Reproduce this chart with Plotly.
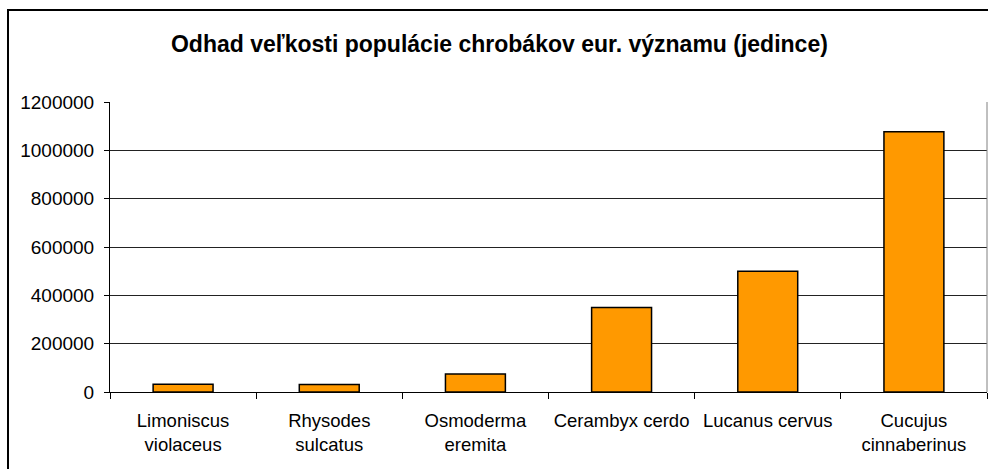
import plotly.graph_objects as go

""" Data read from the chart """
druhy = [
    "Limoniscus<br>violaceus",
    "Rhysodes<br>sulcatus",
    "Osmoderma<br>eremita",
    "Cerambyx cerdo",
    "Lucanus cervus",
    "Cucujus<br>cinnaberinus",
]
jedince = [32000, 31000, 74000, 350000, 500000, 1077000]

y_ticks = [0, 200000, 400000, 600000, 800000, 1000000, 1200000]

""" Plot """
fig = go.Figure(
    go.Bar(
        x=druhy,
        y=jedince,
        marker=dict(color="#FF9900", line=dict(color="#000000", width=1.5)),
    )
)

fig.update_layout(
    width=988,
    height=469,
    margin=dict(l=110, r=1, t=102, b=77),
    paper_bgcolor="white",
    plot_bgcolor="white",
    bargap=0.59,
    showlegend=False,
    font=dict(family="Liberation Sans, Arial", size=18.5, color="black"),
    title=dict(
        text="<b>Odhad veľkosti populácie chrobákov eur. významu (jedince)</b>",
        x=0.5055,
        xanchor="center",
        y=0.906,
        yanchor="middle",
        font=dict(size=23, color="black"),
    ),
)

fig.update_xaxes(
    type="category",
    showline=True,
    linecolor="black",
    linewidth=1,
    ticks="outside",
    tickson="boundaries",
    ticklen=6,
    tickcolor="black",
    showgrid=False,
    ticklabelstandoff=12,
)
fig.update_yaxes(
    range=[0, 1200000],
    tickvals=y_ticks,
    ticktext=[str(v) for v in y_ticks],
    tickfont=dict(size=19),
    showline=True,
    linecolor="black",
    linewidth=1,
    ticks="outside",
    ticklen=5,
    tickcolor="black",
    showgrid=True,
    gridcolor="#222222",
    gridwidth=1,
    zeroline=False,
    ticklabelstandoff=6,
)

# plot area border (top/right gray) and outer chart frame
fig.add_shape(type="line", xref="paper", yref="paper", x0=1, x1=1, y0=0, y1=1,
              line=dict(color="#808080", width=1))
fig.add_shape(type="rect", xref="paper", yref="paper",
              x0=-0.1163, x1=1.05, y0=-0.5, y1=1.317,
              line=dict(color="black", width=2), layer="above")

fig.write_html("out.html", config={"displayModeBar": False},
               post_script="document.body.style.margin='0';")
